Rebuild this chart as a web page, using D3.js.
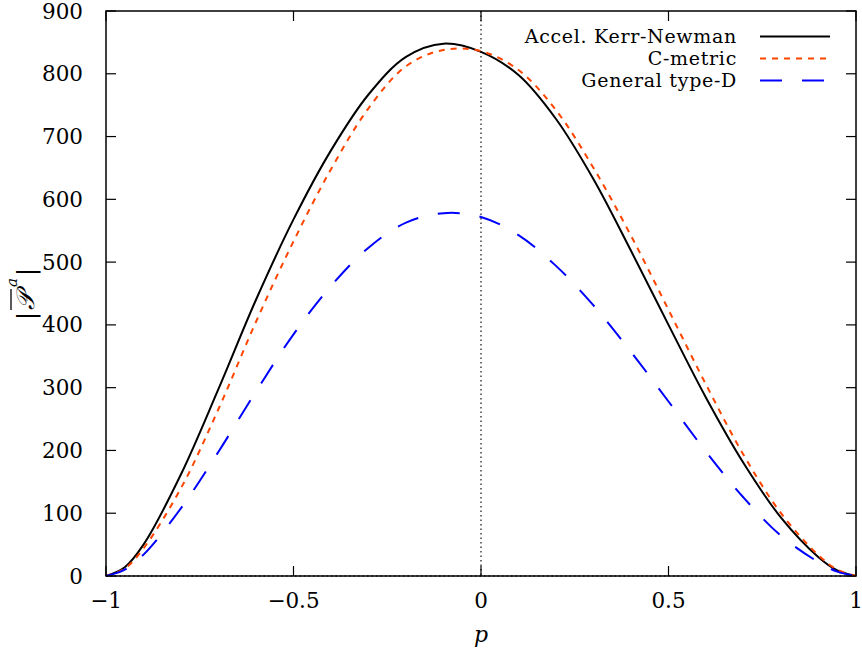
<!DOCTYPE html>
<html><head><meta charset="utf-8">
<script src="https://cdn.jsdelivr.net/npm/d3@7"></script>
<style>body{margin:0;background:#fff} text{font-family:"DejaVu Serif","Liberation Serif",serif;}</style>
</head><body>
<svg id="c" width="862" height="654"></svg>
<script>
const pVals = [-1,-0.95,-0.9,-0.8,-0.7,-0.6,-0.5,-0.4,-0.3,-0.2,-0.1,0,0.1,0.2,0.3,0.4,0.5,0.6,0.7,0.8,0.9,0.95,1];
const kerrNewman = [0,14,50,162,298,440,568,678,767,827,848,835,798,728,632,518,400,284,180,93,30,9,0];
const cMetric    = [0,12,44,140,266,405,533,648,745,812,838,836,806,742,650,542,424,305,193,100,33,10,0];
const typeD      = [0,10,34,108,198,294,385,462,523,563,578,572,543,494,431,357,278,198,125,64,22,7,0];
const xTicks = [-1,-0.5,0,0.5,1];
const xTickLabels = ["\u22121","\u22120.5","0","0.5","1"];
const yTicks = [0,100,200,300,400,500,600,700,800,900];
const seriesNames = ["Accel. Kerr-Newman","C-metric","General type-D"];

const svg = d3.select("#c");
const L=106, R=856, T=11, B=576;
const x = d3.scaleLinear().domain([-1,1]).range([L,R]);
const y = d3.scaleLinear().domain([0,900]).range([B,T]);

const styles = [
  {c:"#000000", d:null, data:kerrNewman},
  {c:"#ff4500", d:"6,6", data:cMetric},
  {c:"#0000ff", d:"22,20", data:typeD}
];

svg.append("line").attr("x1",x(0)).attr("x2",x(0)).attr("y1",T).attr("y2",B)
  .attr("stroke","#333").attr("stroke-width",1.4).attr("stroke-dasharray","1.5,3");
svg.append("line").attr("x1",L).attr("x2",R).attr("y1",y(0)).attr("y2",y(0))
  .attr("stroke","#333").attr("stroke-width",1.4).attr("stroke-dasharray","1.5,3");

const tk = svg.append("g").attr("stroke","#000").attr("stroke-width",1.2);
yTicks.forEach(v=>{
  tk.append("line").attr("x1",L).attr("x2",L+10).attr("y1",y(v)).attr("y2",y(v));
  tk.append("line").attr("x1",R).attr("x2",R-10).attr("y1",y(v)).attr("y2",y(v));
});
xTicks.forEach(v=>{
  tk.append("line").attr("x1",x(v)).attr("x2",x(v)).attr("y1",B).attr("y2",B-10);
  tk.append("line").attr("x1",x(v)).attr("x2",x(v)).attr("y1",T).attr("y2",T+10);
});

const line = d3.line().x((d,i)=>x(pVals[i])).y(d=>y(d)).curve(d3.curveCatmullRom.alpha(0.5));
styles.forEach(s=>{
  svg.append("path").datum(s.data).attr("d",line).attr("fill","none")
    .attr("stroke",s.c).attr("stroke-width",2).attr("stroke-dasharray",s.d);
});

svg.append("rect").attr("x",L).attr("y",T).attr("width",R-L).attr("height",B-T)
  .attr("fill","none").attr("stroke","#000").attr("stroke-width",1.5);

const tl = svg.append("g").attr("font-size",21.5).attr("fill","#000");
yTicks.forEach(v=>{
  tl.append("text").attr("x",83).attr("y",y(v)+7.5).attr("text-anchor","end").text(v);
});
xTicks.forEach((v,i)=>{
  tl.append("text").attr("x",x(v)).attr("y",608).attr("text-anchor","middle").text(xTickLabels[i]);
});

svg.append("text").attr("x",x(0)).attr("y",642).attr("text-anchor","middle")
  .attr("font-size",22).attr("font-style","italic").text("p");

// y axis title, built in a rotated group
const yg = svg.append("g").attr("transform","translate(34,292) rotate(-90)");
yg.append("text").attr("x",-28).attr("y",0).attr("font-size",24).text("|");
yg.append("text").attr("x",-18).attr("y",0).attr("font-size",25).attr("font-style","italic").text("\u{1D4AB}");
yg.append("line").attr("x1",-18).attr("x2",3).attr("y1",-23).attr("y2",-23).attr("stroke","#000").attr("stroke-width",1.3);
yg.append("text").attr("x",5).attr("y",-17).attr("font-size",15).attr("font-style","italic").text("a");
yg.append("text").attr("x",16).attr("y",0).attr("font-size",24).text("|");

const lg = svg.append("g");
styles.forEach((s,i)=>{
  const yy = 36.5 + i*22;
  lg.append("text").attr("x",737).attr("y",yy+6.5).attr("text-anchor","end")
    .attr("font-size",19).attr("letter-spacing",0.7).text(seriesNames[i]);
  lg.append("line").attr("x1",760).attr("x2",830).attr("y1",yy).attr("y2",yy)
    .attr("stroke",s.c).attr("stroke-width",2).attr("stroke-dasharray",s.d);
});
</script>
</body></html>
